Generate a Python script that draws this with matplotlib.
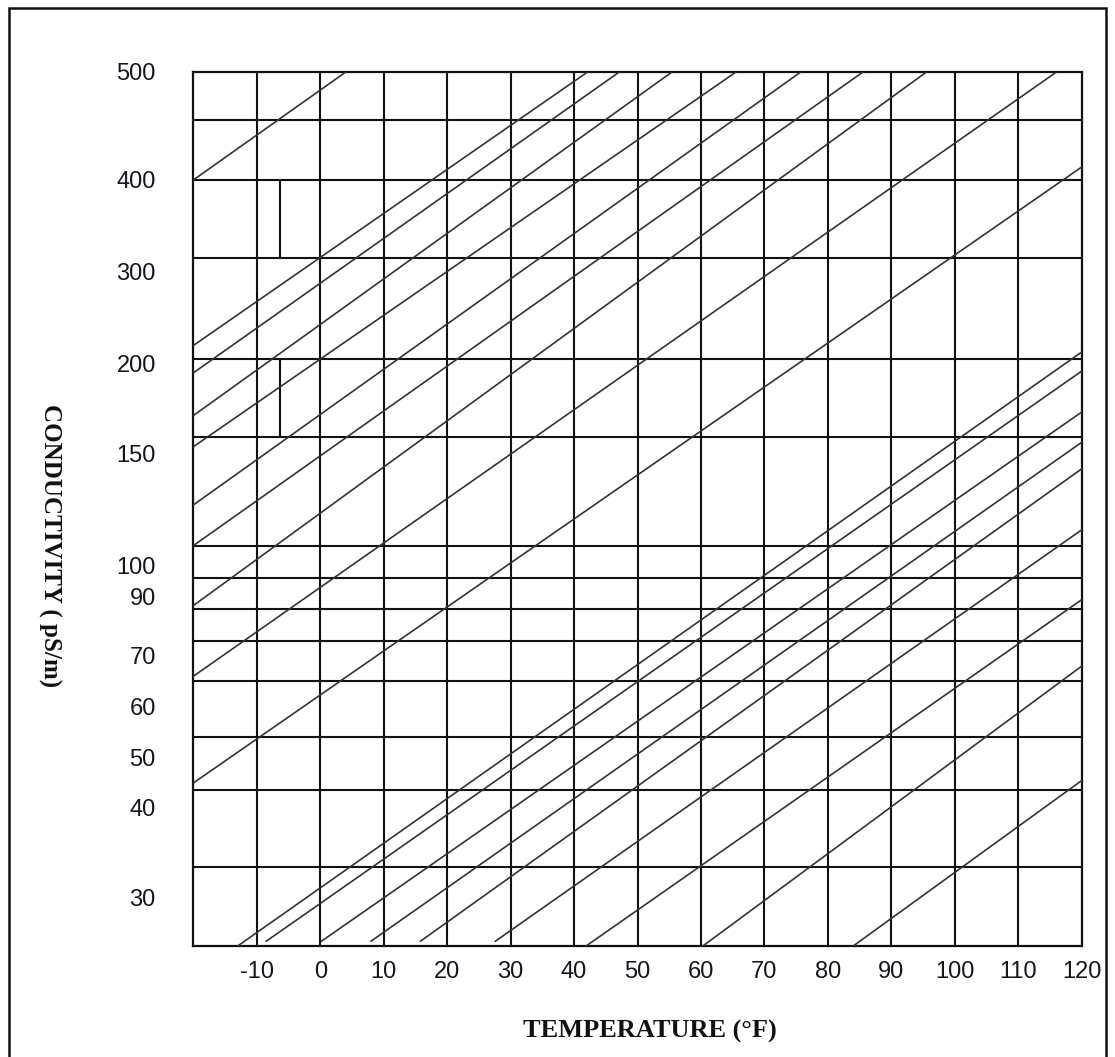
import numpy as np
import matplotlib
matplotlib.use("Agg")
import matplotlib.pyplot as plt
from matplotlib.patches import Rectangle

# temperature axis (deg F)
temp_ticks = [-10, 0, 10, 20, 30, 40, 50, 60, 70, 80, 90, 100, 110, 120]
temp_range = (-20, 120)

# conductivity axis (pS/m): labelled values and the uneven chart scale they sit on
cond_ticks = [30, 40, 50, 60, 70, 90, 100, 150, 200, 300, 400, 500]
scale_vals = [25, 30, 40, 50, 60, 70, 90, 100, 150, 200, 300, 400, 500]
scale_pos = [0, 48, 138, 188, 239.3, 290, 349.3, 380, 493, 582, 674.3, 766, 874.3]

# horizontal rulings (pS/m)
cond_grid = [455, 400, 315, 205, 159, 109, 96, 86, 75, 65, 54, 43.6, 33.4]

# short vertical marks at -6.4 F
mark_temp = -6.4
mark_spans = [(315, 400), (159, 205)]

# diagonal lines: (temp start, cond start, temp end, cond end)
upper_lines = [
    (-20, 400, 4.1, 500),
    (-20, 220, 42.2, 500),
    (-20, 195, 47.2, 500),
    (-20, 171, 55.5, 500),
    (-20, 153.5, 65.6, 500),
    (-20, 127, 75.8, 500),
    (-20, 109, 85.6, 500),
    (-20, 87, 95.6, 500),
    (-20, 66, 116.1, 500),
    (-20, 45, 120, 412),
]
lower_lines = [
    (-13.0, 25, 120, 213),
    (-8.5, 25.5, 120, 196),
    (0.2, 25.5, 120, 173),
    (8.0, 25.5, 120, 156),
    (15.8, 25.5, 120, 143),
    (27.6, 25.5, 120, 116),
    (41.9, 25, 120, 89),
    (60.3, 25, 120, 68),
    (84.0, 25, 120, 45.5),
]


def fwd(v):
    return np.interp(v, scale_vals, scale_pos)


def inv(p):
    return np.interp(p, scale_pos, scale_vals)


W, H = 1115, 1057
fig = plt.figure(figsize=(W / 100, H / 100), dpi=100)
ax = fig.add_axes([193.3 / W, 1 - 946 / H, (1081.7 - 193.3) / W, (946 - 71.7) / H])

ax.set_yscale("function", functions=(fwd, inv))
ax.set_xlim(*temp_range)
ax.set_ylim(25, 500)

grid_kw = dict(color="#111111", lw=1.5, zorder=2)
for t in temp_ticks[:-1]:
    ax.axvline(t, **grid_kw)
for c in cond_grid:
    ax.axhline(c, **grid_kw)
for lo, hi in mark_spans:
    ax.vlines(mark_temp, lo, hi, **grid_kw)

for t0, c0, t1, c1 in upper_lines + lower_lines:
    ax.plot([t0, t1], [c0, c1], color="#333333", lw=1.2, zorder=3)

for sp in ax.spines.values():
    sp.set_linewidth(1.6)
    sp.set_color("#111111")

tick_font = dict(family=["Liberation Sans", "DejaVu Sans"], size=17)
ax.set_xticks(temp_ticks)
ax.set_xticklabels([str(t) for t in temp_ticks], **tick_font, color="#15151f")
ax.set_yticks(cond_ticks)
ax.set_yticklabels([str(c) for c in cond_ticks], **tick_font, color="#15151f")
ax.yaxis.set_minor_locator(matplotlib.ticker.NullLocator())
ax.tick_params(axis="x", length=0, pad=11)
ax.tick_params(axis="y", length=0, pad=27)

label_font = dict(family=["Liberation Serif", "DejaVu Serif"],
                  weight="bold", color="#111111")
fig.text(650 / W, 1 - 1031 / H, "TEMPERATURE (°F)", ha="center", va="center",
         size=19, **label_font)
fig.text(50 / W, 1 - 546 / H, "CONDUCTIVITY ( pS/m)", ha="center", va="center",
         rotation=-90, size=18, **label_font)

fig.add_artist(Rectangle((9 / W, -0.02), (1106 - 9) / W, 1 - 8 / H + 0.02,
                         transform=fig.transFigure, fill=False,
                         edgecolor="#111111", lw=1.8))

fig.savefig("out.png", dpi=100)
